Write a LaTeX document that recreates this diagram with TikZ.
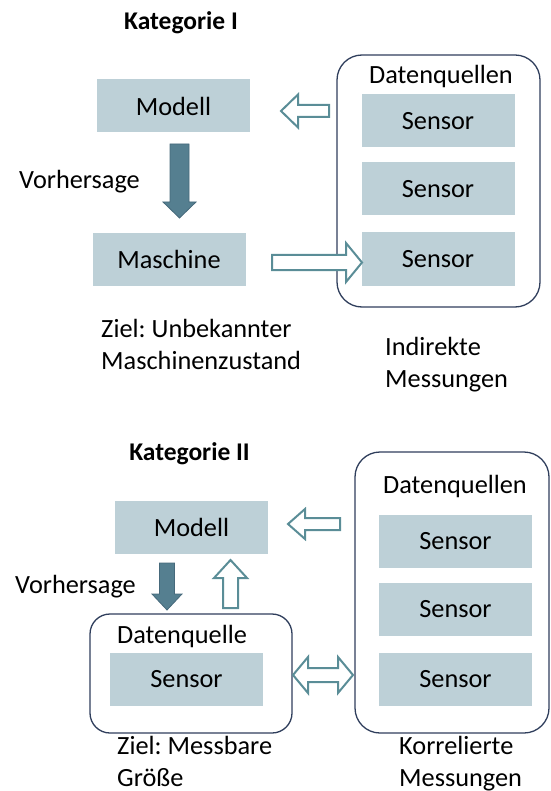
\documentclass[tikz,border=0pt]{standalone}
\usepackage{fontspec}
\setmainfont{Carlito}
\frenchspacing
\usetikzlibrary{calc}
\definecolor{cbox}{HTML}{BDD0D7}
\definecolor{cdark}{HTML}{557F90}
\definecolor{cdarkline}{HTML}{46697B}
\definecolor{cteal}{HTML}{5A8D97}
\definecolor{cframe}{HTML}{2F3E5C}
\tikzset{
  every picture/.style={font=\fontsize{26.3}{31.5}\selectfont, line join=miter},
  sensbox/.style={fill=cbox, minimum width=153pt, minimum height=53pt, inner sep=0pt},
  srcframe/.style={draw=cframe, line width=1.3pt, rounded corners=#1},
  srcframe/.default=25pt,
  openarrow/.style={draw=cteal, fill=white, line width=2pt},
  fillarrow/.style={draw=cdarkline, fill=cdark, line width=0.8pt},
  txt/.style={anchor=base west, inner sep=0pt, align=left},
  cattitle/.style={anchor=base, inner sep=0pt, font=\fontsize{25.5}{30}\selectfont\bfseries},
  % block arrow along +x: length/shaft half/head half/head length
  pics/barrow/.style args={#1/#2/#3/#4}{code={
    \draw[pic actions] (0,-#2) -- ({#1-#4},-#2) -- ({#1-#4},-#3) -- (#1,0) -- ({#1-#4},#3) -- ({#1-#4},#2) -- (0,#2) -- cycle;}},
  pics/dbarrow/.style args={#1/#2/#3/#4}{code={
    \draw[pic actions] (0,0) -- (#4,-#3) -- (#4,-#2) -- ({#1-#4},-#2) -- ({#1-#4},-#3) -- (#1,0) -- ({#1-#4},#3) -- ({#1-#4},#2) -- (#4,#2) -- (#4,#3) -- cycle;}},
}

\begin{document}
\begin{tikzpicture}[x=1pt, y=-1pt]
  \useasboundingbox (0,0) rectangle (550,791);
  % Kategorie I
  \node[cattitle] (kat1) at (181,30) {Kategorie I};
  \draw[srcframe] (337,55) rectangle (540,307);
  \node[anchor=base, inner sep=0pt] (dq1) at (441,84) {Datenquellen};
  \node[sensbox] (modell1) at (173.5,106) {Modell};
  \node[sensbox] (maschine1) at (169,259.5) {Maschine};
  \foreach \y [count=\i] in {121,189,259} \node[sensbox] (sen1\i) at (438,\y) {Sensor};
  \node[txt] (vorh1) at (19,189) {Vorhersage};
  \pic[openarrow, rotate=180] at (329,111) {barrow=48/6/16.5/17};
  \pic[fillarrow, rotate=-90] at (179.5,144) {barrow=74/9.5/16.5/16};
  \pic[openarrow] at (272,262.5) {barrow=90/7.5/19.5/16};
  \node[txt] (ziel1) at (101,369) {Ziel: Unbekannter\\Maschinenzustand};
  \node[txt] (mess1) at (385,387) {Indirekte\\Messungen};
  % Kategorie II
  \node[cattitle] (kat2) at (189.5,460) {Kategorie II};
  \draw[srcframe] (355,452) rectangle (549,733);
  \node[anchor=base, inner sep=0pt] (dq2) at (455,493) {Datenquellen};
  \node[sensbox] (modell2) at (191.5,527.5) {Modell};
  \foreach \y [count=\i] in {541.5,609.5,679.5} \node[sensbox] (sen2\i) at (455.5,\y) {Sensor};
  \draw[srcframe=20pt] (90,614) rectangle (292,733);
  \node[anchor=base, inner sep=0pt] (dquelle2) at (182,643) {Datenquelle};
  \node[sensbox] (sen20) at (186.5,679.5) {Sensor};
  \node[txt] (vorh2) at (15,593) {Vorhersage};
  \pic[openarrow, rotate=180] at (340,524) {barrow=52/6/15/17};
  \pic[fillarrow, rotate=-90] at (167,563) {barrow=47/7.5/15/16};
  \pic[openarrow, rotate=90] at (230.5,608) {barrow=48/7.5/16.5/18};
  \pic[openarrow] at (293,675) {dbarrow=60/7/18/15};
  \node[txt] (ziel2) at (117,786) {Ziel: Messbare\\Größe};
  \node[txt] (mess2) at (399,786) {Korrelierte\\Messungen};
\end{tikzpicture}
\end{document}
